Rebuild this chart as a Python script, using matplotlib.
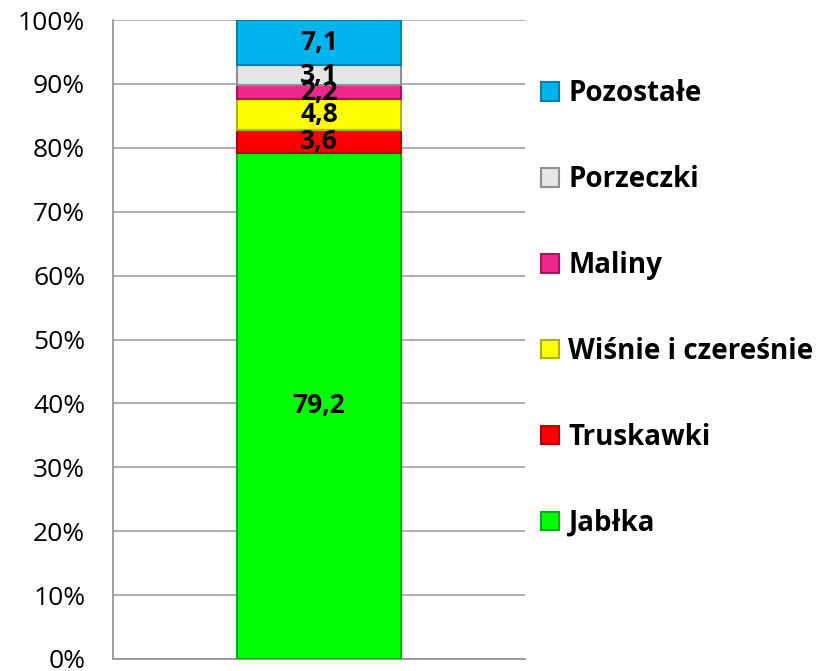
import matplotlib.pyplot as plt
from matplotlib.patches import Patch
from matplotlib.ticker import PercentFormatter

plt.rcParams['font.family'] = ['Open Sans', 'DejaVu Sans']

categories = ['Jabłka', 'Truskawki', 'Wiśnie i czereśnie', 'Maliny', 'Porzeczki', 'Pozostałe']
values = [79.2, 3.6, 4.8, 2.2, 3.1, 7.1]
labels = ['79,2', '3,6', '4,8', '2,2', '3,1', '7,1']
colors = ['#00FF00', '#FF0000', '#FFFF00', '#F0288C', '#E6E6E6', '#00B4EC']
edges = ['#00B000', '#B00000', '#B0B000', '#A0185C', '#909090', '#0080A8']

fig = plt.figure(figsize=(8.23, 6.71), dpi=100)
ax = fig.add_axes([113 / 823, 1 - 659 / 671, 412 / 823, 639 / 671])

bottom = 0
handles = []
for cat, v, lab, c, e in zip(categories, values, labels, colors, edges):
    ax.bar(0, v, bottom=bottom, width=0.4, color=c, edgecolor=e, linewidth=1.5, zorder=3)
    ax.text(0, bottom + v / 2, lab, ha='center', va='center', fontsize=19,
            fontweight='bold', zorder=4)
    handles.append(Patch(facecolor=c, edgecolor=e, linewidth=1.5, label=cat))
    bottom += v

ax.set_xlim(-0.5, 0.5)
ax.set_ylim(0, 100)
ax.set_yticks(range(0, 101, 10))
ax.yaxis.set_major_formatter(PercentFormatter(decimals=0))
ax.set_xticks([])
ax.tick_params(axis='y', length=0, labelsize=19, pad=20)
ax.grid(axis='y', color='#A0A0A0', linewidth=1.2, zorder=0)
for s in ['top', 'right']:
    ax.spines[s].set_visible(False)
for s in ['left', 'bottom']:
    ax.spines[s].set_color('#909090')
    ax.spines[s].set_linewidth(1.2)

leg = fig.legend(handles=handles[::-1], loc='upper left',
                 bbox_to_anchor=(530 / 823, 1 - 68 / 671), frameon=False,
                 prop={'size': 20, 'weight': 'bold'}, handlelength=0.65,
                 handleheight=0.65, handletextpad=0.32, labelspacing=2.05,
                 borderaxespad=0)

fig.savefig('out.png', dpi=100)
